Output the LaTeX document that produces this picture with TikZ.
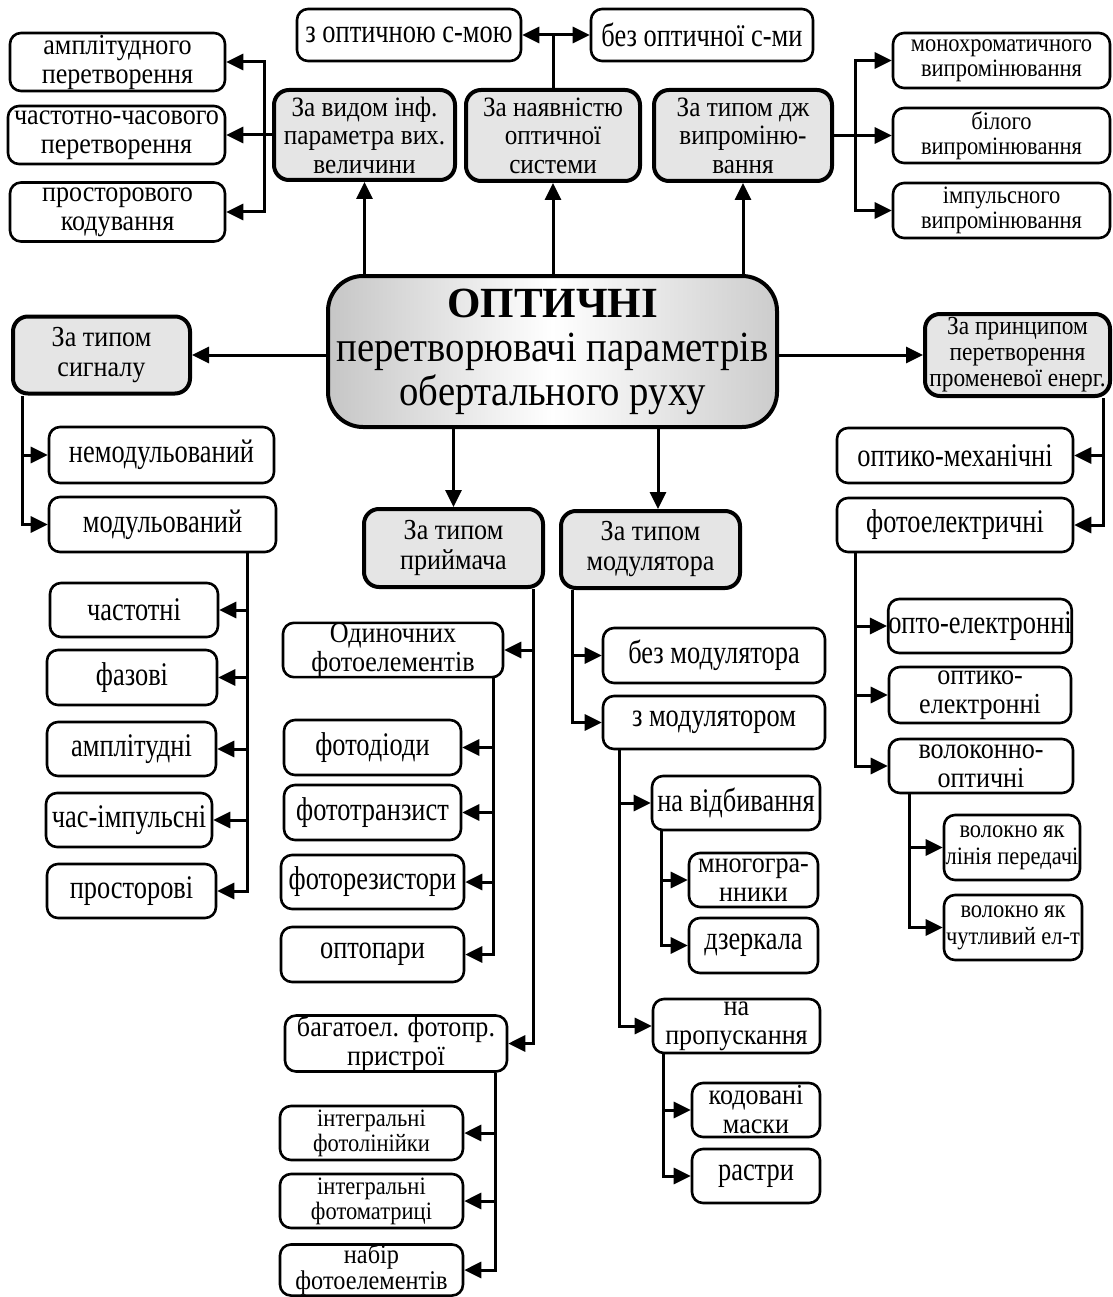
\documentclass[tikz,border=0pt]{standalone}
\usepackage{fontspec}
\setmainfont{Liberation Serif}[FakeStretch=0.8]
\newfontfamily\titlefont{Liberation Serif}
\newfontfamily\mfam{Liberation Serif}[FakeStretch=0.9]
\usetikzlibrary{arrows.meta}
\newcommand\fsz[2]{\fontsize{#1}{#2}\selectfont}
\newcommand\mf[2]{\mfam\fontsize{#1}{#2}\selectfont}
\begin{document}
\begin{tikzpicture}[x=1pt,y=-1pt,
  base/.style={draw, line width=2.6pt, rounded corners=11pt, fill=white, align=center, inner sep=0pt, font=\fsz{33}{33}},
  wbox/.style n args={2}{base, minimum width=#1pt, minimum height=#2pt},
  two/.style={font=\mf{29}{29}},
  gbox/.style n args={2}{base, fill=gray!20, line width=4pt, rounded corners=15pt, minimum width=#1pt, minimum height=#2pt},
  cbox/.style={draw, line width=4pt, rounded corners=35pt, left color=gray!45, right color=gray!40, middle color=white, align=center, inner sep=0pt, minimum width=449pt, minimum height=151pt, font=\mf{43}{44}},
  arr/.style={line width=3pt, -{Triangle[length=17pt,width=16pt]}},
  ln/.style={line width=3pt},
]
\useasboundingbox (0,0) rectangle (1112,1297);
\fill[white] (0,0) rectangle (1112,1297);

% junction x-positions
\coordinate (jL) at (264,0);
\coordinate (jR) at (855,0);
\coordinate (jS) at (22,0);
\coordinate (jN) at (247,0);
\coordinate (jP) at (533,0);
\coordinate (jO1) at (493,0);
\coordinate (jO2) at (495,0);
\coordinate (jM) at (572,0);
\coordinate (jM2) at (619,0);
\coordinate (jV1) at (661,0);
\coordinate (jV2) at (663,0);
\coordinate (jE) at (1103,0);
\coordinate (jF) at (855,0);
\coordinate (jG) at (909,0);
\coordinate (xm) at (658,0);

% centre
\node[cbox] (C) at (552.5,351.5) {{\titlefont\fsz{43}{44}\bfseries ОПТИЧНІ}\\перетворювачі параметрів\\обертального руху};

% top row
\node[wbox={224}{52}] (t1) at (409,35) {з оптичною с-мою};
\node[wbox={222}{52}] (t2) at (702,35) {без оптичної с-ми};
\node[gbox={181}{90}, font=\mf{28}{28.5}] (G1) at (364.5,135) {За видом інф.\\параметра вих.\\величини};
\node[gbox={174}{91}, font=\mf{28}{28.5}] (G2) at (553,135.5) {За наявністю\\оптичної\\системи};
\node[gbox={178}{91}, font=\mf{28}{28.5}] (G3) at (743,135.5) {За типом дж\\випроміню-\\вання};

\node[wbox={215}{58}, two] (a1) at (117.5,62) {амплітудного\\перетворення};
\node[wbox={217}{58}, two] (a2) at (116.5,135) {частотно-часового\\перетворення};
\node[wbox={215}{59}, two] (a3) at (117.5,212) {просторового\\кодування};

\node[wbox={217}{55}, font=\mf{25}{25}] (r1) at (1001.5,60.5) {монохроматичного\\випромінювання};
\node[wbox={217}{55}, font=\mf{25}{25}] (r2) at (1001.5,135.5) {білого\\випромінювання};
\node[wbox={217}{55}, font=\mf{25}{25}] (r3) at (1001.5,210.5) {імпульсного\\випромінювання};

% side grey boxes
\node[gbox={177}{77}, font=\mf{29}{30}] (L) at (101.5,355) {За типом\\сигналу};
\node[gbox={185}{82}, font=\mf{26}{26}] (R) at (1017.5,355) {За принципом\\перетворення\\променевої енерг.};

% left branch
\node[wbox={225}{56}] (n1) at (161.5,455) {немодульований};
\node[wbox={227}{55}] (n2) at (162.5,524.5) {модульований};
\node[wbox={168}{54}] (c1) at (134,610) {частотні};
\node[wbox={170}{55}] (c2) at (132,677.5) {фазові};
\node[wbox={169}{54}] (c3) at (131.5,749) {амплітудні};
\node[wbox={166}{54}] (c4) at (129,820) {час-імпульсні};
\node[wbox={169}{54}] (c5) at (131.5,891) {просторові};

% receiver branch
\node[gbox={179}{78}, font=\mf{29}{30}] (P) at (453.5,548) {За типом\\приймача};
\node[wbox={220}{54}, two] (o1) at (393,650) {Одиночних\\фотоелементів};
\node[wbox={177}{55}] (p1) at (372.5,747.5) {фотодіоди};
\node[wbox={177}{55}] (p2) at (372.5,812.5) {фототранзист};
\node[wbox={183}{54}] (p3) at (372.5,882) {фоторезистори};
\node[wbox={183}{55}] (p4) at (372.5,954.5) {оптопари};
\node[wbox={222}{55}, two] (o2) at (396,1043.5) {багатоел. фотопр.\\пристрої};
\node[wbox={183}{54}, font=\mf{25}{25}] (q1) at (371.5,1133) {інтегральні\\фотолінійки};
\node[wbox={183}{54}, font=\mf{25}{25}] (q2) at (371.5,1201) {інтегральні\\фотоматриці};
\node[wbox={183}{50}, font=\mf{27}{26}] (q3) at (371.5,1270) {набір\\фотоелементів};

% modulator branch
\node[gbox={179}{77}, font=\mf{29}{30}] (M) at (650.5,549.5) {За типом\\модулятора};
\node[wbox={222}{55}] (m1) at (714,655.5) {без модулятора};
\node[wbox={222}{53}] (m2) at (714,722.5) {з модулятором};
\node[wbox={168}{54}] (v1) at (736,803) {на відбивання};
\node[wbox={129}{54}, two] (w1) at (753.5,880) {многогра-\\нники};
\node[wbox={129}{55}] (w2) at (753.5,945.5) {дзеркала};
\node[wbox={167}{54}, two] (v2) at (736.5,1026) {на\\пропускання};
\node[wbox={128}{54}, two] (k1) at (756,1110) {кодовані\\маски};
\node[wbox={128}{54}] (k2) at (756,1176) {растри};

% right branch
\node[wbox={236}{55}] (e1) at (955,455.5) {оптико-механічні};
\node[wbox={236}{54}] (e2) at (955,525) {фотоелектричні};
\node[wbox={182}{54}] (f1) at (980,626) {опто-електронні};
\node[wbox={182}{56}, two] (f2) at (980,695) {оптико-\\електронні};
\node[wbox={184}{54}, two] (f3) at (981,766) {волоконно-\\оптичні};
\node[wbox={136}{65}, font=\mf{25}{27}] (g1) at (1012,847.5) {волокно як\\лінія передачі};
\node[wbox={138}{65}, font=\mf{25}{27}] (g2) at (1013,927.5) {волокно як\\чутливий ел-т};

% connectors: centre
\draw[arr] (C.north -| G1.south) -- (G1.south);
\draw[arr] (C.north -| G2.south) -- (G2.south);
\draw[arr] (C.north -| G3.south) -- (G3.south);
\draw[arr] (C.west |- L.east) -- (L.east);
\draw[arr] (C.east |- R.west) -- (R.west);
\draw[arr] (C.south -| P.north) -- (P.north);
\draw[arr] (C.south -| xm) -- (M.north -| xm);

% top
\coordinate (jT) at (G2.north |- t1.east);
\draw[ln] (G2.north) -- (jT);
\draw[arr] (jT) -- (t1.east);
\draw[arr] (jT) -- (t2.west);

\draw[arr] (G1.west) -- (G1.west -| a2.east);
\draw[arr] (jL |- G1.west) |- (a1.east);
\draw[arr] (jL |- G1.west) |- (a3.east);

\draw[arr] (G3.east) -- (G3.east -| r2.west);
\draw[arr] (jR |- G3.east) |- (r1.west);
\draw[arr] (jR |- G3.east) |- (r3.west);

% left
\draw[arr] (L.south -| jS) |- (n2.west);
\draw[arr] (jS |- n1.west) -- (n1.west);
\draw[arr] (n2.south -| jN) |- (c5.east);
\draw[arr] (jN |- c1.east) -- (c1.east);
\draw[arr] (jN |- c2.east) -- (c2.east);
\draw[arr] (jN |- c3.east) -- (c3.east);
\draw[arr] (jN |- c4.east) -- (c4.east);

% receiver
\draw[arr] (P.south -| jP) |- (o2.east);
\draw[arr] (jP |- o1.east) -- (o1.east);
\draw[arr] (o1.south -| jO1) |- (p4.east);
\draw[arr] (jO1 |- p1.east) -- (p1.east);
\draw[arr] (jO1 |- p2.east) -- (p2.east);
\draw[arr] (jO1 |- p3.east) -- (p3.east);
\draw[arr] (o2.south -| jO2) |- (q3.east);
\draw[arr] (jO2 |- q1.east) -- (q1.east);
\draw[arr] (jO2 |- q2.east) -- (q2.east);

% modulator
\draw[arr] (M.south -| jM) |- (m2.west);
\draw[arr] (jM |- m1.west) -- (m1.west);
\draw[arr] (m2.south -| jM2) |- (v2.west);
\draw[arr] (jM2 |- v1.west) -- (v1.west);
\draw[arr] (v1.south -| jV1) |- (w2.west);
\draw[arr] (jV1 |- w1.west) -- (w1.west);
\draw[arr] (v2.south -| jV2) |- (k2.west);
\draw[arr] (jV2 |- k1.west) -- (k1.west);

% right
\draw[arr] (R.south -| jE) |- (e2.east);
\draw[arr] (jE |- e1.east) -- (e1.east);
\draw[arr] (e2.south -| jF) |- (f3.west);
\draw[arr] (jF |- f1.west) -- (f1.west);
\draw[arr] (jF |- f2.west) -- (f2.west);
\draw[arr] (f3.south -| jG) |- (g2.west);
\draw[arr] (jG |- g1.west) -- (g1.west);
\end{tikzpicture}
\end{document}
